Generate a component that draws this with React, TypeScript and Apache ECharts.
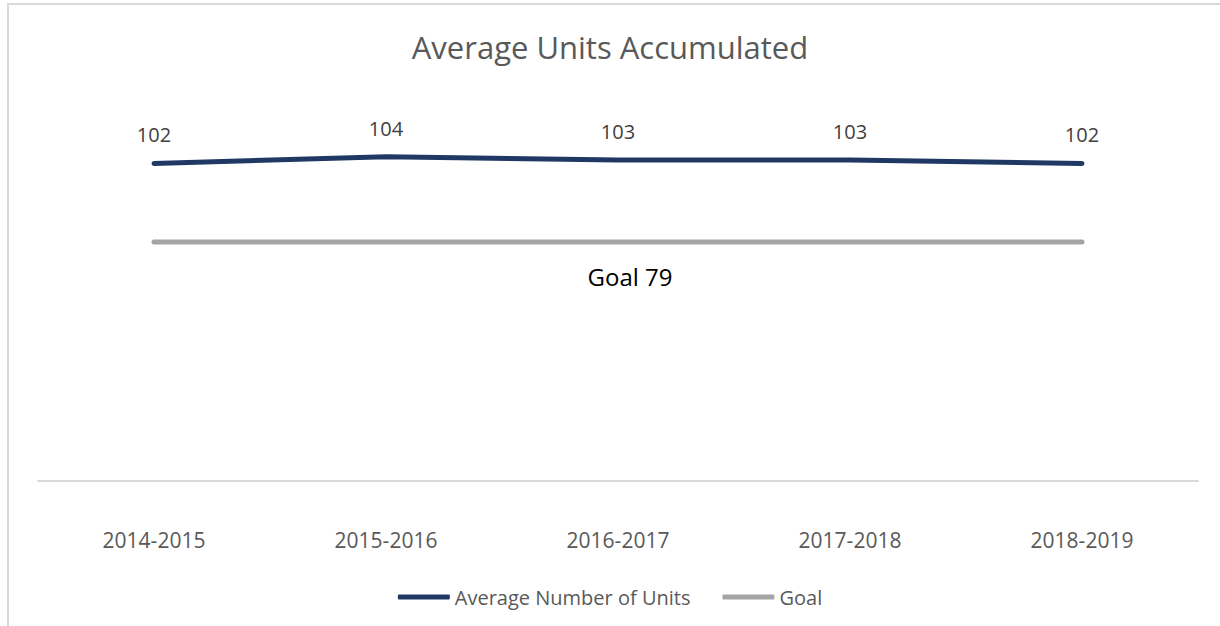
import React, { useEffect, useRef } from "react";
import * as echarts from "echarts";

const categories = ["2014-2015", "2015-2016", "2016-2017", "2017-2018", "2018-2019"];
const averageUnits = [102, 104, 103, 103, 102];
const goalValues = [79, 79, 79, 79, 79];
const goalLabel = "Goal 79";
const titleText = "Average Units Accumulated";
const seriesNames = ["Average Number of Units", "Goal"];

const FONT = "'Open Sans', 'Noto Sans', sans-serif";

export default function App() {
  const ref = useRef<HTMLDivElement>(null);
  useEffect(() => {
    if (!ref.current) return;
    const chart = echarts.init(ref.current, undefined, { renderer: "svg" });
    chart.setOption({
      animation: false,
      backgroundColor: "#ffffff",
      textStyle: { fontFamily: FONT },
      title: {
        text: titleText,
        left: "center",
        top: 26,
        textStyle: { fontFamily: FONT, fontSize: 31, fontWeight: "normal", color: "#595959" },
      },
      graphic: [
        {
          type: "rect",
          x: 8,
          y: 4,
          shape: { x: 0, y: 0, width: 1400, height: 800 },
          style: { fill: "none", stroke: "#D9D9D9", lineWidth: 2 },
          silent: true,
          z: -10,
        },
      ],
      legend: {
        bottom: 14,
        left: "center",
        itemWidth: 52,
        itemHeight: 5,
        itemGap: 32,
        icon: "roundRect",
        textStyle: { fontFamily: FONT, fontSize: 20, color: "#595959" },
        data: seriesNames,
      },
      grid: { left: 38, right: 22, top: 102, bottom: 145 },
      xAxis: {
        type: "category",
        data: categories,
        boundaryGap: true,
        axisLine: { lineStyle: { color: "#D9D9D9", width: 2 } },
        axisTick: { show: false },
        axisLabel: { fontFamily: FONT, fontSize: 21, color: "#595959", margin: 48 },
        splitLine: { show: false },
      },
      yAxis: {
        type: "value",
        min: 9,
        max: 120,
        show: false,
        splitLine: { show: false },
      },
      series: [
        {
          name: seriesNames[0],
          type: "line",
          data: averageUnits,
          symbol: "circle",
          symbolSize: 1,
          showSymbol: true,
          lineStyle: { color: "#203864", width: 5, cap: "round", join: "round" },
          itemStyle: { color: "#203864" },
          label: {
            show: true,
            position: "top",
            distance: 18,
            fontFamily: FONT,
            fontSize: 20,
            color: "#404040",
          },
        },
        {
          name: seriesNames[1],
          type: "line",
          data: goalValues.map((v, i) =>
            i === 2
              ? {
                  value: v,
                  label: {
                    show: true,
                    position: "bottom",
                    distance: 22,
                    offset: [12, 0],
                    formatter: goalLabel,
                    fontFamily: FONT,
                    fontSize: 24,
                    color: "#000000",
                  },
                }
              : v
          ),
          symbol: "circle",
          symbolSize: 1,
          showSymbol: true,
          lineStyle: { color: "#A5A5A5", width: 5, cap: "round" },
          itemStyle: { color: "#A5A5A5" },
          label: { show: false },
        },
      ],
    });
    return () => chart.dispose();
  }, []);
  return (
    <div
      ref={ref}
      style={{ position: "absolute", left: 0, top: 0, width: 1220, height: 626 }}
    />
  );
}
